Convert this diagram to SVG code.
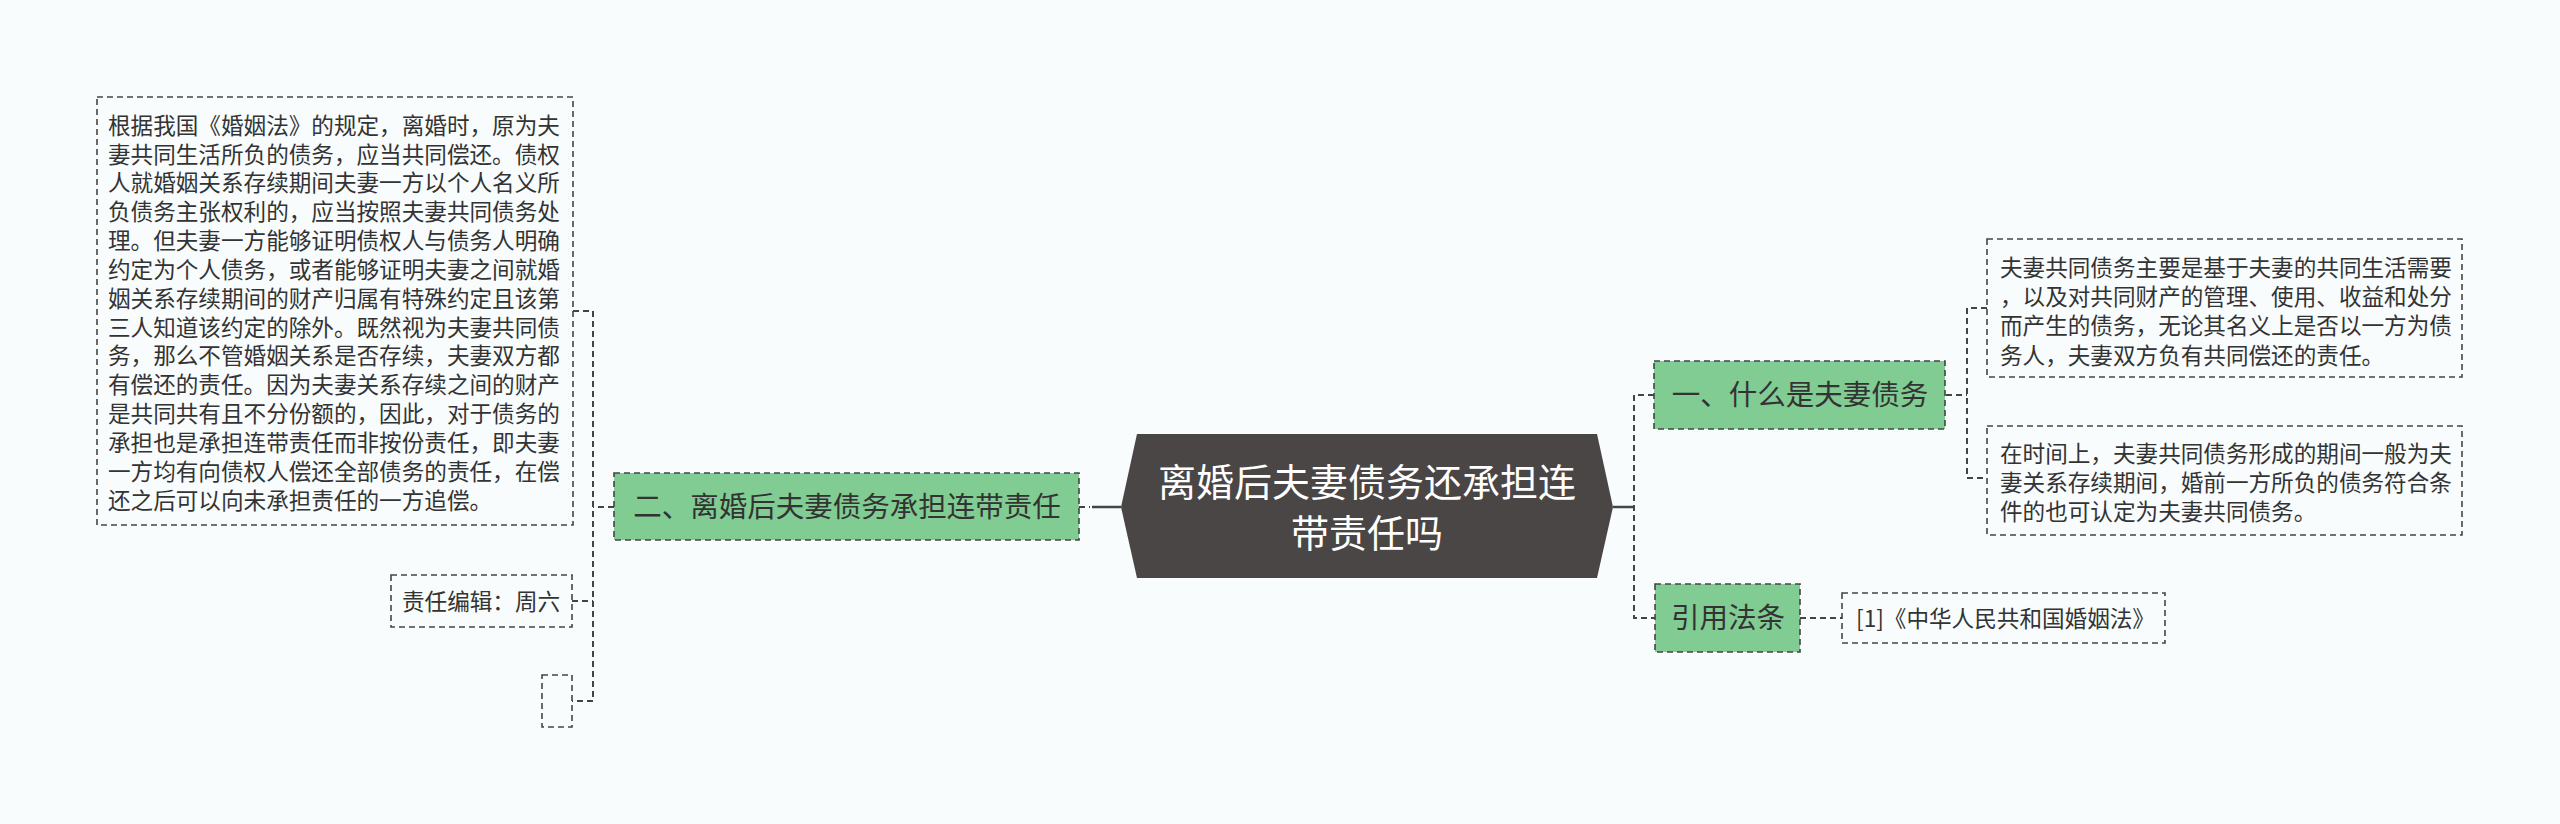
<svg xmlns="http://www.w3.org/2000/svg" width="2560" height="824" viewBox="0 0 2560 824">
<style>
.bg{fill:#f8fcfd}
.box{fill:none;stroke:#444;stroke-width:1.6;stroke-dasharray:6 4}
.green{fill:#80cc92;stroke:#444;stroke-width:1.6;stroke-dasharray:6 4}
.hex{fill:#4b4646}
.t{font-family:"Noto Sans CJK SC","Noto Sans",sans-serif;font-size:22.6px;fill:#333}
.tg{font-family:"Noto Sans CJK SC","Noto Sans",sans-serif;font-size:28.5px;fill:#333;text-anchor:middle}
.tc{font-family:"Noto Sans CJK SC","Noto Sans",sans-serif;font-size:38px;fill:#fff;text-anchor:middle}
.dc{fill:none;stroke:#444;stroke-width:2;stroke-dasharray:6 4}
.sc{fill:none;stroke:#444;stroke-width:2.5}
</style>
<rect class="bg" x="0" y="0" width="2560" height="824"/>
<g id="connectors">
<path class="dc" d="M614,507 H593"/>
<path class="dc" d="M573,311 H593 V701 H572"/>
<path class="dc" d="M572,601 H593"/>
<path class="dc" d="M1079,507 H1090"/>
<path class="sc" d="M1092,507 H1121"/>
<path class="sc" d="M1613,507 H1634"/>
<path class="dc" d="M1654,395 H1634 V618 H1655"/>
<path class="dc" d="M1634,395 V507"/>
<path class="dc" d="M1946,395 H1967"/>
<path class="dc" d="M1987,308 H1967 V478 H1987"/>
<path class="dc" d="M1800,618 H1842"/>
</g>
<g id="center">
<polygon class="hex" points="1121,507 1137,434 1597,434 1613,507 1597,578 1137,578"/>
<text class="tc" x="1367" y="496">离婚后夫妻债务还承担连</text>
<text class="tc" x="1367" y="547">带责任吗</text>
</g>
<g id="node-left">
<rect class="green" x="614" y="473" width="465" height="67"/>
<text class="tg" x="847" y="517">二、离婚后夫妻债务承担连带责任</text>
</g>
<g id="node-left-text">
<rect class="box" x="97" y="97" width="476" height="428"/>
<text class="t">
<tspan x="108" y="133.6">根据我国《婚姻法》的规定，离婚时，原为夫</tspan>
<tspan x="108" y="162.5">妻共同生活所负的债务，应当共同偿还。债权</tspan>
<tspan x="108" y="191.3">人就婚姻关系存续期间夫妻一方以个人名义所</tspan>
<tspan x="108" y="220.2">负债务主张权利的，应当按照夫妻共同债务处</tspan>
<tspan x="108" y="249">理。但夫妻一方能够证明债权人与债务人明确</tspan>
<tspan x="108" y="277.9">约定为个人债务，或者能够证明夫妻之间就婚</tspan>
<tspan x="108" y="306.7">姻关系存续期间的财产归属有特殊约定且该第</tspan>
<tspan x="108" y="335.6">三人知道该约定的除外。既然视为夫妻共同债</tspan>
<tspan x="108" y="364.4">务，那么不管婚姻关系是否存续，夫妻双方都</tspan>
<tspan x="108" y="393.3">有偿还的责任。因为夫妻关系存续之间的财产</tspan>
<tspan x="108" y="422.1">是共同共有且不分份额的，因此，对于债务的</tspan>
<tspan x="108" y="451">承担也是承担连带责任而非按份责任，即夫妻</tspan>
<tspan x="108" y="479.8">一方均有向债权人偿还全部债务的责任，在偿</tspan>
<tspan x="108" y="508.7">还之后可以向未承担责任的一方追偿。</tspan>
</text>
</g>
<g id="node-editor">
<rect class="box" x="391" y="575" width="181" height="52"/>
<text class="t" x="402" y="610">责任编辑：周六</text>
</g>
<g id="node-empty">
<rect class="box" x="542" y="675" width="30" height="52"/>
</g>
<g id="node-right1">
<rect class="green" x="1654" y="361" width="291" height="68"/>
<text class="tg" x="1800" y="405">一、什么是夫妻债务</text>
</g>
<g id="node-right1-a">
<rect class="box" x="1987" y="239" width="475" height="138"/>
<text class="t">
<tspan x="2000" y="275.6">夫妻共同债务主要是基于夫妻的共同生活需要</tspan>
<tspan x="2000" y="305">，以及对共同财产的管理、使用、收益和处分</tspan>
<tspan x="2000" y="334.4">而产生的债务，无论其名义上是否以一方为债</tspan>
<tspan x="2000" y="363.6">务人，夫妻双方负有共同偿还的责任。</tspan>
</text>
</g>
<g id="node-right1-b">
<rect class="box" x="1987" y="426" width="475" height="109"/>
<text class="t">
<tspan x="2000" y="461.6">在时间上，夫妻共同债务形成的期间一般为夫</tspan>
<tspan x="2000" y="491">妻关系存续期间，婚前一方所负的债务符合条</tspan>
<tspan x="2000" y="520.4">件的也可认定为夫妻共同债务。</tspan>
</text>
</g>
<g id="node-right2">
<rect class="green" x="1655" y="584" width="145" height="68"/>
<text class="tg" x="1728" y="628">引用法条</text>
</g>
<g id="node-right2-a">
<rect class="box" x="1842" y="593" width="323" height="50"/>
<text class="t" x="1856" y="627">[1]《中华人民共和国婚姻法》</text>
</g>
</svg>
